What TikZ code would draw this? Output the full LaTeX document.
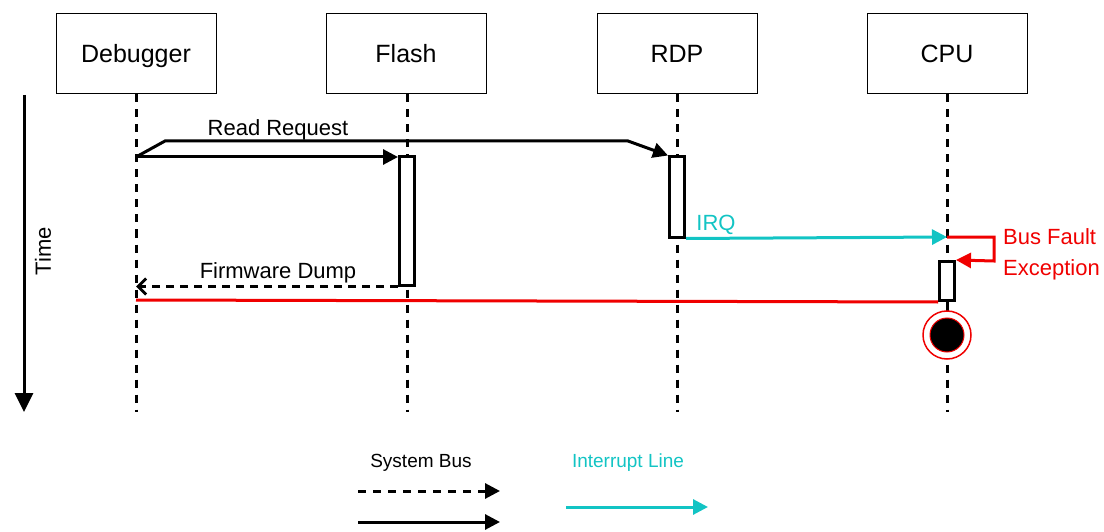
\documentclass[tikz,border=0pt]{standalone}
\usepackage{fontspec}
\setmainfont{Liberation Sans}
\usetikzlibrary{arrows.meta}
\definecolor{irqc}{RGB}{18,196,196}
\definecolor{faultc}{RGB}{240,0,0}
\tikzset{
  x=1pt,y=-1pt,
  actor/.style={draw,line width=1pt,minimum width=160pt,minimum height=80pt,inner sep=0pt,text height=18pt,text depth=0pt,font=\fontsize{25}{29}\selectfont},
  life/.style={line width=3pt,dash pattern=on 8pt off 7pt},
  act/.style={draw,line width=3pt,fill=white,inner sep=0pt,minimum width=15pt},
  tip/.style={-{Triangle[length=15pt,width=15pt]}},
  msg/.style={line width=3pt,tip},
  ret/.style={line width=3pt,dash pattern=on 8pt off 6pt,-{Straight Barb[length=8pt,width=16pt,line width=3pt]}},
  lbl/.style={inner sep=0pt,font=\fontsize{22}{26}\selectfont},
  leg/.style={inner sep=0pt,font=\fontsize{19}{22}\selectfont},
}
\begin{document}
\begin{tikzpicture}
\useasboundingbox (0,0) rectangle (1104,532);
% actors
\node[actor] (dbg) at (136,54) {Debugger};
\node[actor] (fl) at (406,54) {Flash};
\node[actor] (rdp) at (677,54) {RDP};
\node[actor] (cpu) at (947,54) {CPU};
% lifeline ends
\coordinate (dbgE) at (136,412);
\coordinate (flE) at (407,412);
\coordinate (rdpE) at (677,412);
\coordinate (cpuE) at (947,412);
\draw[life] (dbg.south) -- (dbgE);
\draw[life] (fl.south -| flE) -- (flE);
\draw[life] (rdp.south) -- (rdpE);
\draw[life] (cpu.south) -- (cpuE);
% activations
\node[act,minimum height=128pt] (flA) at (407,221) {};
\node[act,minimum height=80pt] (rdpA) at (677,197) {};
\node[act,minimum height=39pt] (cpuA) at (947,281) {};
% read request
\coordinate (rrS) at (136,157);
\coordinate (rr1) at (165,141);
\coordinate (rr2) at (628,141);
\draw[msg] (rrS) -- (rrS -| flA.west);
\draw[msg] (rrS) -- (rr1) -- (rr2) -- (rdpA.north west);
\node[lbl] (rrL) at (278,130) {Read Request};
% IRQ
\coordinate (irqE) at (947,237);
\draw[line width=3pt,irqc,tip] (rdpA.south east) -- (irqE);
\node[lbl,text=irqc] (irqL) at (716,225) {IRQ};
% bus fault
\coordinate (bf1) at (994,237);
\coordinate (bf2) at (994,261);
\draw[line width=3pt,faultc,tip] (irqE) -- (bf1) -- (bf2) -- (cpuA.north east);
\node[lbl,text=faultc,align=left,anchor=west] (bfL) at (1003,254) {Bus Fault\\[5pt]Exception};
% firmware dump
\draw[ret] (flA.south west) -- (flA.south west -| dbgE);
\node[lbl] (fdL) at (278,273) {Firmware Dump};
% red line
\coordinate (rl) at (136,300);
\draw[line width=3pt,faultc] (rl) -- (cpuA.south west);
% terminal
\node[circle,draw=faultc,line width=1.5pt,fill=white,minimum size=48pt,inner sep=0pt] (term) at (947,335) {};
\node[circle,draw=faultc,line width=1pt,fill=black,minimum size=34pt,inner sep=0pt] (termIn) at (term) {};
\draw[line width=3pt] (cpuA.south) -- (term.north);
% time axis
\coordinate (t1) at (24,95);
\coordinate (t2) at (24,412);
\draw[line width=3pt,-{Triangle[length=19pt,width=18pt]}] (t1) -- (t2);
\node[lbl,rotate=90] (tL) at (43,251) {Time};
% legend
\node[leg] (legS) at (421,463) {System Bus};
\coordinate (ld1) at (358,491); \coordinate (ld2) at (500,491);
\coordinate (ls1) at (358,522); \coordinate (ls2) at (500,522);
\draw[line width=3pt,dash pattern=on 8pt off 7pt,tip] (ld1) -- (ld2);
\draw[msg] (ls1) -- (ls2);
\node[leg,text=irqc] (legI) at (628,463) {Interrupt Line};
\coordinate (li1) at (566,507); \coordinate (li2) at (708,507);
\draw[line width=3pt,irqc,tip] (li1) -- (li2);
\end{tikzpicture}
\end{document}
